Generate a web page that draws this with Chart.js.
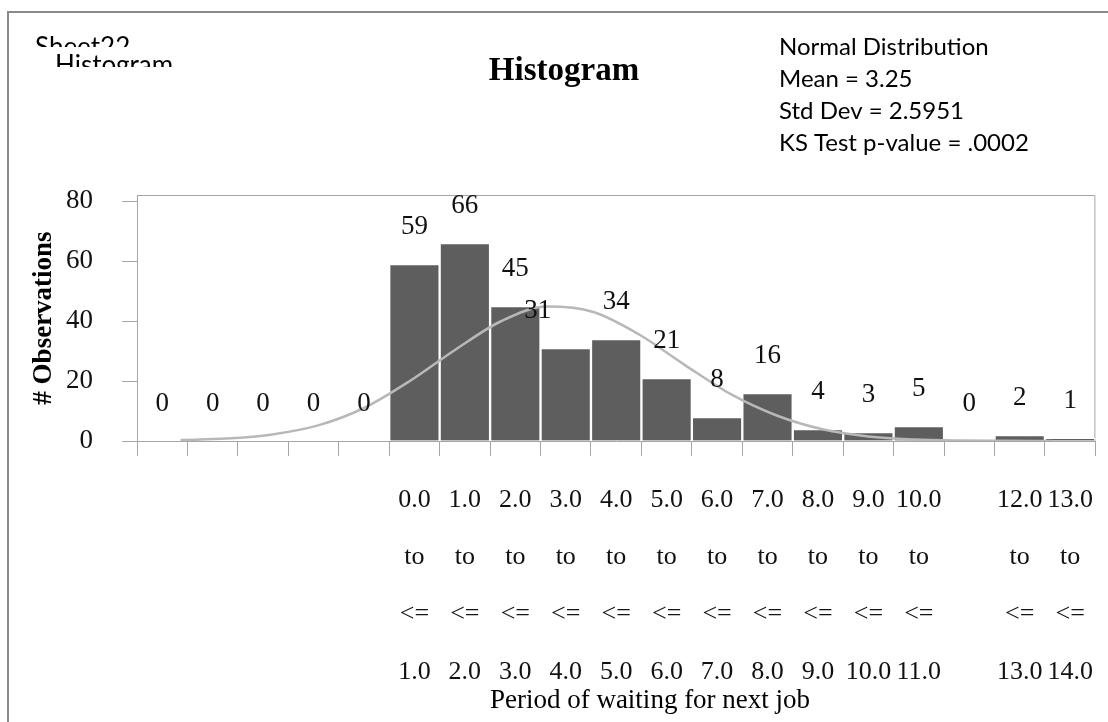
<!DOCTYPE html>
<html>
<head>
<meta charset="utf-8">
<script src="https://cdn.jsdelivr.net/npm/chart.js@4.4.0/dist/chart.umd.min.js"></script>
<style>
  body { margin: 0; background: #fff; }
  #wrap { width: 1108px; height: 722px; }
</style>
</head>
<body>
<div id="wrap"><canvas id="chart" width="1108" height="722"></canvas></div>
<script>
// bins: 5 empty ones on the left, then 0-1 ... 13-14
const tickLabels = [
  '', '', '', '', '',
  ['0.0', 'to', '<=', '1.0'],
  ['1.0', 'to', '<=', '2.0'],
  ['2.0', 'to', '<=', '3.0'],
  ['3.0', 'to', '<=', '4.0'],
  ['4.0', 'to', '<=', '5.0'],
  ['5.0', 'to', '<=', '6.0'],
  ['6.0', 'to', '<=', '7.0'],
  ['7.0', 'to', '<=', '8.0'],
  ['8.0', 'to', '<=', '9.0'],
  ['9.0', 'to', '<=', '10.0'],
  ['10.0', 'to', '<=', '11.0'],
  '',
  ['12.0', 'to', '<=', '13.0'],
  ['13.0', 'to', '<=', '14.0']
];
const counts = [0, 0, 0, 0, 0, 59, 66, 45, 31, 34, 21, 8, 16, 4, 3, 5, 0, 2, 1];

// fitted normal curve at bin edges
const curveX = [-5, -4, -3, -2, -1, 0, 1, 2, 3, 4, 5, 6, 7, 8, 9, 10, 11, 12, 13, 14];
const curveY = [0.3, 0.8, 2.2, 5.2, 11, 20, 30.5, 40, 44.8, 43, 35.5, 25.3, 15.6, 8.5, 3.9, 1.5, 0.5, 0.15, 0.05, 0.01];

const infoLines = ['Normal Distribution', 'Mean = 3.25', 'Std Dev = 2.5951', 'KS Test p-value = .0002'];

const serif = '"Liberation Serif", "Times New Roman", serif';
const sans = 'Lato, "Open Sans", sans-serif';
const axisGray = '#a6a6a6';

const decorations = {
  id: 'decorations',
  beforeDraw: function (chart) {
    const ctx = chart.ctx;
    const a = chart.chartArea;
    ctx.save();
    // outer frame
    ctx.strokeStyle = '#8a8a8a';
    ctx.lineWidth = 2;
    ctx.beginPath();
    ctx.moveTo(8, 722);
    ctx.lineTo(8, 12);
    ctx.lineTo(1108, 12);
    ctx.stroke();
    // plot box top/right
    ctx.strokeStyle = axisGray;
    ctx.lineWidth = 1;
    ctx.beginPath();
    ctx.moveTo(a.left, a.top - 5.5);
    ctx.lineTo(a.right - 0.5, a.top - 5.5);
    ctx.lineTo(a.right - 0.5, a.bottom);
    ctx.stroke();
    ctx.beginPath();
    ctx.moveTo(a.left + 0.5, a.top - 5.5);
    ctx.lineTo(a.left + 0.5, a.top);
    ctx.stroke();
    ctx.restore();
  },
  afterDraw: function (chart) {
    const ctx = chart.ctx;
    ctx.save();
    ctx.fillStyle = '#000';
    // clipped sheet caption, top left
    ctx.font = '26px ' + sans;
    ctx.textAlign = 'left';
    ctx.textBaseline = 'alphabetic';
    ctx.save();
    ctx.beginPath();
    ctx.rect(0, 0, 400, 47);
    ctx.clip();
    ctx.fillText('Sheet22', 35, 56);
    ctx.restore();
    ctx.save();
    ctx.beginPath();
    ctx.rect(0, 48, 400, 19);
    ctx.clip();
    ctx.fillText('Histogram', 55, 74);
    ctx.restore();

    // title
    ctx.font = 'bold 33px ' + serif;
    ctx.textAlign = 'center';
    ctx.fillText('Histogram', 564, 80);

    // info block
    ctx.font = '24px ' + sans;
    ctx.textAlign = 'left';
    infoLines.forEach(function (t, i) {
      ctx.fillText(t, 779, 55 + i * 32);
    });

    // axis titles
    ctx.font = '27px ' + serif;
    ctx.textAlign = 'center';
    ctx.fillText('Period of waiting for next job', 650, 708);
    ctx.save();
    ctx.translate(44, 318);
    ctx.rotate(-Math.PI / 2);
    ctx.font = 'bold 27px ' + serif;
    ctx.textBaseline = 'middle';
    ctx.fillText('# Observations', 0, 0);
    ctx.restore();

    // value labels over bars
    const meta = chart.getDatasetMeta(0);
    ctx.font = '27px ' + serif;
    ctx.textBaseline = 'middle';
    ctx.fillStyle = '#111';
    meta.data.forEach(function (bar, i) {
      const dx = i === 8 ? -28 : 0;
      ctx.fillText(String(counts[i]), bar.x + dx, bar.y - 37);
    });
    ctx.restore();
  }
};

const ctx = document.getElementById('chart').getContext('2d');
const chart = new Chart(ctx, {
  type: 'bar',
  data: {
    labels: tickLabels,
    datasets: [
      {
        type: 'bar',
        data: counts,
        backgroundColor: '#5e5e5e',
        borderColor: '#ffffff',
        borderWidth: 1.5,
        barPercentage: 1,
        categoryPercentage: 1,
        grouped: false,
        order: 2
      },
      {
        type: 'line',
        xAxisID: 'x2',
        data: curveX.map(function (x, i) { return { x: x, y: curveY[i] }; }),
        borderColor: '#b8b8b8',
        borderWidth: 2.5,
        pointRadius: 0,
        cubicInterpolationMode: 'monotone',
        fill: false,
        order: 1
      }
    ]
  },
  options: {
    responsive: false,
    animation: false,
    layout: { padding: { top: 201, right: 3, bottom: 41, left: 0 } },
    plugins: {
      legend: { display: false },
      tooltip: { enabled: false }
    },
    scales: {
      x: {
        type: 'category',
        offset: true,
        border: { display: true, color: axisGray },
        grid: {
          display: true,
          offset: true,
          drawOnChartArea: false,
          tickLength: 15,
          color: axisGray
        },
        ticks: {
          autoSkip: false,
          maxRotation: 0,
          padding: 15,
          color: '#111',
          font: { family: serif, size: 26, lineHeight: 2.21 }
        }
      },
      x2: {
        type: 'linear',
        display: false,
        min: -5,
        max: 14
      },
      y: {
        min: 0,
        max: 80,
        afterFit: function (scale) { scale.width = 137; },
        border: { display: true, color: axisGray },
        grid: {
          drawOnChartArea: false,
          tickLength: 15,
          color: axisGray
        },
        ticks: {
          stepSize: 20,
          padding: 29,
          color: '#111',
          font: { family: serif, size: 27 }
        }
      }
    }
  },
  plugins: [decorations]
});
</script>
</body>
</html>
